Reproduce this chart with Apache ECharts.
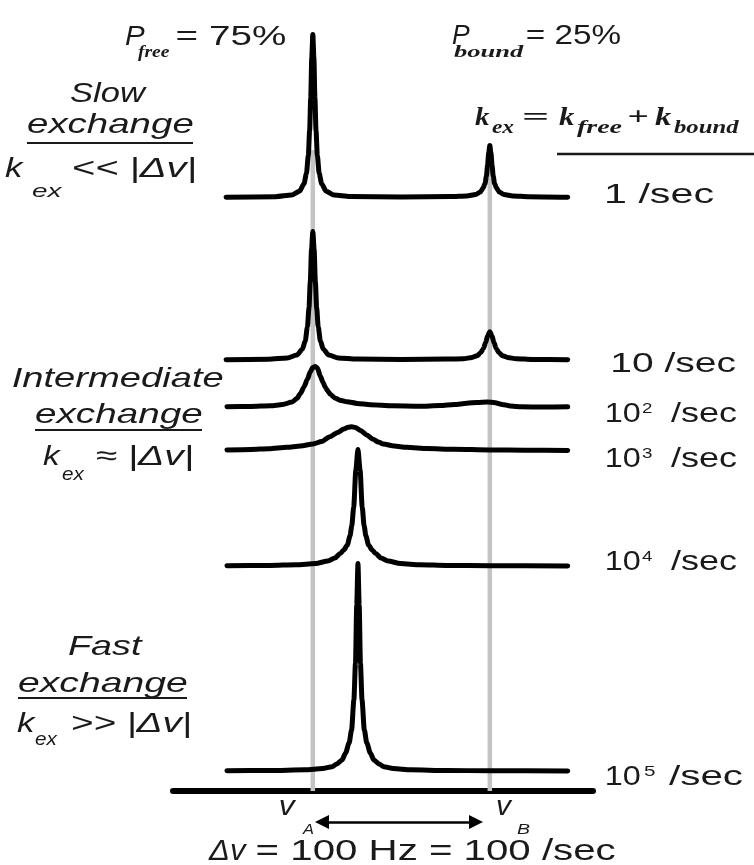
<!DOCTYPE html>
<html>
<head>
<meta charset="utf-8">
<script src="https://cdn.jsdelivr.net/npm/echarts@6/dist/echarts.min.js"></script>
<style>
  html, body { margin: 0; padding: 0; background: #fff; }
  #chart { width: 754px; height: 865px; }
</style>
</head>
<body>
<div id="chart"></div>
<script>
// Chemical shifts of the two sites, Hz (free = A, bound = B)
const shiftsHz = [0, 100];

// Exchange-rate labels, top to bottom: mantissa and power of ten
const rateMantissa = ['1', '10', '10', '10', '10', '10'];
const rateExponent = ['', '', '2', '3', '4', '5'];

// Line shapes: [frequency offset (Hz), intensity]
const spectrumK1 = [
  [-49, 0.2], [-21, 0.8], [-12, 2.5], [-7.5, 6.3], [-5, 13.7], [-3.6, 24], [-2.55, 42], [-1.8, 67],
  [-1.2, 99], [-0.6, 140], [0, 163], [0.6, 140], [1.2, 99], [1.8, 67], [2.55, 42], [3.6, 24],
  [5, 13.7], [7.5, 6.3], [12, 2.5], [21, 0.9], [50, 0.5], [78, 0.9], [87, 1.6], [92, 3],
  [94.7, 5.5], [96.2, 9.5], [97.3, 14], [98.1, 21.5], [98.7, 32], [99.4, 45], [100, 52],
  [100.6, 45], [101.3, 32], [101.9, 21.5], [102.7, 14], [103.8, 9.5], [105.3, 5.5], [108, 3],
  [113, 1.6], [122, 0.8], [144, 0.3]
];
const spectrumK10 = [
  [-49, 0.3], [-25, 0.8], [-14.4, 2], [-9, 4.9], [-5.9, 10.8], [-4.3, 19], [-3.05, 33], [-2.15, 52.7],
  [-1.45, 78], [-0.72, 111], [0, 128.5], [0.72, 111], [1.45, 78], [2.15, 52.7], [3.05, 33], [4.3, 19],
  [5.9, 10.8], [9, 4.9], [14.4, 2], [25, 0.9], [50, 0.6], [76, 0.9], [85, 1.3], [90, 2.5],
  [92.8, 4.3], [94.9, 7.3], [96.4, 11.6], [97.6, 17.2], [98.8, 24.3], [100, 28.2], [101.2, 24.3],
  [102.4, 17.2], [103.6, 11.6], [105.1, 7.3], [107.2, 4.3], [110, 2.5], [115, 1.3], [124, 0.5], [144, 0.2]
];
const spectrumK100 = [
  [-48.5, 0.3], [-35, 0.6], [-24, 1.2], [-17, 2.5], [-11.7, 5], [-9, 8.5], [-7, 13.5], [-5, 20],
  [-3, 28], [-1.5, 35], [0, 39.5], [1.2, 40.5], [2.6, 39], [4.2, 31], [5.8, 24.5], [7, 20],
  [8, 17], [10, 12.5], [12.7, 8.7], [16, 6.5], [19.3, 5.3], [25, 3.6], [32.5, 2.2], [45, 1.2],
  [60, 0.8], [72, 1.4], [80, 2.5], [87, 3.7], [93, 4.6], [98.4, 5], [103, 4.3], [107, 2.6],
  [111.6, 1], [118, 0.2], [130, 0], [144, 0.2]
];
const spectrumK1000 = [
  [-48.5, 0], [-35, 0.6], [-25, 1.3], [-14.7, 2.7], [-7, 4], [0.1, 6], [5, 8.6], [9.7, 13.3],
  [14, 17.6], [17.5, 21], [20, 22.8], [22, 23.3], [24, 22.6], [27, 19.5], [30.5, 15], [34, 10.8],
  [37, 8], [39.8, 6], [46, 4], [53, 2.7], [65, 1.5], [79.4, 0.7], [100, 0.1], [120, -0.3], [144, -0.5]
];
const spectrumK10000 = [
  [-48.5, 0.3], [-24.5, 0.6], [-9.5, 1.2], [1.5, 2.5], [8.5, 5], [12.5, 8], [15.5, 12.5], [17.5, 16],
  [19.5, 21], [21, 30], [22, 40], [23.1, 59], [24.3, 96], [25.5, 116.5], [26.7, 96], [27.9, 59],
  [29, 40], [30, 30], [31.5, 21], [33.5, 16], [35.5, 12.5], [38.5, 8], [42.5, 5], [49.5, 2.5],
  [60.5, 1.2], [75.5, 0.6], [100, 0.3], [144, 0.1]
];
const spectrumK100000 = [
  [-48.5, 0.2], [-24.5, 0.5], [-4.5, 1.2], [5.5, 2.5], [10.9, 4.3], [13.5, 7], [16.5, 11], [18.5, 18],
  [20.5, 28], [21.9, 41], [23.2, 71], [24.1, 108], [24.8, 166], [25.5, 207.5], [26.2, 166], [26.9, 108],
  [27.8, 71], [29.1, 41], [30.5, 28], [32.5, 18], [34.5, 11], [37.5, 7], [40.1, 4.3], [45.5, 2.5],
  [55.5, 1.2], [75.5, 0.5], [100, 0.25], [144, 0.1]
];

const spectra = [spectrumK1, spectrumK10, spectrumK100, spectrumK1000, spectrumK10000, spectrumK100000];

// Vertical stacking of the traces (value units = pixels above the frequency axis)
const baselineOffsets = [593.5, 431, 384, 341, 225, 20];
const guideTop = 641;

const TEXT = '#1a1a1a';
const SANS = '"Liberation Sans", Arial, sans-serif';
const SERIF = '"Liberation Serif", "Times New Roman", serif';

// Text measuring: fit each string's ink between two x positions on a given baseline
const mctx = document.createElement('canvas').getContext('2d');
function txt(str, inkL, inkR, baseline, font) {
  mctx.font = font;
  mctx.textBaseline = 'middle';
  const m = mctx.measureText(str);
  const midToBase = mctx.measureText('H').actualBoundingBoxDescent;
  const inkW = m.actualBoundingBoxLeft + m.actualBoundingBoxRight;
  const s = (inkR - inkL) / inkW;
  return {
    type: 'text', silent: true, z: 100,
    x: inkL + m.actualBoundingBoxLeft * s, y: baseline - midToBase, scaleX: s,
    style: { text: str, font: font, fill: TEXT, align: 'left', verticalAlign: 'middle' }
  };
}
function rule(x1, x2, y, w) {
  return { type: 'line', silent: true, z: 100, shape: { x1: x1, y1: y, x2: x2, y2: y },
    style: { stroke: TEXT, lineWidth: w } };
}

const it28 = `italic 28px ${SANS}`;
const it18 = `italic 18px ${SANS}`;
const reg28 = `28px ${SANS}`;
const subSerif = `italic bold 17px ${SERIF}`;
const kSerif = `italic bold 25px ${SERIF}`;
const opSerif = `bold 25px ${SERIF}`;

const graphics = [
  // populations
  txt('P', 125, 145, 45, it28), txt('free', 138, 170, 57, subSerif), txt('= 75%', 177, 285, 45, reg28),
  txt('P', 452, 470, 43.5, it28), txt('bound', 454, 524, 57, subSerif), txt('= 25%', 527, 620, 43.5, reg28),
  // rate definition
  txt('k', 475, 490, 125, kSerif), txt('ex', 492, 514, 133, `italic bold 18px ${SERIF}`),
  txt('=', 524, 547, 125, opSerif),
  txt('k', 559, 575, 125, kSerif), txt('free', 577, 622, 133, `italic bold 18px ${SERIF}`),
  txt('+', 629, 647, 125, opSerif),
  txt('k', 655, 672, 125, kSerif), txt('bound', 674, 740, 133, `italic bold 18px ${SERIF}`),
  rule(557, 754, 154, 2.5),
  // regime captions
  txt('Slow', 70, 147, 102, it28), txt('exchange', 27, 193, 133, it28), rule(27, 193, 143, 2),
  txt('k', 5, 25, 177, it28), txt('ex', 32, 63, 197, it18), txt('<< |Δv|', 73, 195, 177, it28),
  txt('Intermediate', 13, 223, 387, it28), txt('exchange', 35, 202, 423, it28), rule(35, 202, 430, 2),
  txt('k', 43, 62, 465, it28), txt('ex', 62, 85, 480, it18), txt('≈ |Δv|', 97, 192, 465, it28),
  txt('Fast', 68, 143, 655, it28), txt('exchange', 18, 187, 692, it28), rule(18, 187, 698, 2),
  txt('k', 17, 37, 732, it28), txt('ex', 35, 58, 745, it18), txt('>> |Δv|', 72, 190, 732, it28),
  // frequency axis annotation
  txt('v', 280, 297, 815, it28), txt('A', 302, 314, 834, `italic 15px ${SANS}`),
  txt('v', 497, 513, 815, it28), txt('B', 517, 530, 834, `italic 15px ${SANS}`),
  txt('Δv', 208, 247, 860, `italic 29px ${SANS}`),
  txt('= ' + shiftsHz[1] + ' Hz = ' + shiftsHz[1] + ' /sec', 257, 615, 860, `29px ${SANS}`)
];

// exchange-rate labels at the right of each trace
const rateBaselines = [203, 372, 422, 467, 570, 785];
rateMantissa.forEach((mant, i) => {
  const b = rateBaselines[i];
  if (!rateExponent[i]) {
    graphics.push(i === 0 ? txt(mant + ' /sec', 607, 714, b, reg28) : txt(mant + ' /sec', 613, 736, b, reg28));
  } else {
    const last = i === 5;
    graphics.push(txt(mant, 607, 640, b, reg28));
    graphics.push(txt(rateExponent[i], last ? 644 : 642, last ? 655 : 652, b - 9.5, `15px ${SANS}`));
    graphics.push(txt('/sec', last ? 669 : 671, last ? 743 : 737, b, reg28));
  }
});

const traceSeries = spectra.map((pts, i) => ({
  type: 'line',
  name: rateMantissa[i] + (rateExponent[i] ? '^' + rateExponent[i] : '') + ' /sec',
  data: pts.map(([f, v]) => [f, v + baselineOffsets[i]]),
  symbol: 'none', smooth: 0.25, smoothMonotone: 'x', silent: true, z: 3,
  lineStyle: { color: '#000', width: 5, cap: 'round', join: 'round' }
}));

const guideSeries = shiftsHz.map((hz, i) => ({
  type: 'line', silent: true, symbol: 'none', z: 1,
  data: [[hz, 0], [hz, guideTop]],
  lineStyle: { color: '#c4c4c4', width: 4.5 },
  markLine: i === 0 ? {
    silent: true, z: 4, animation: false,
    symbol: ['triangle', 'triangle'], symbolSize: 14,
    label: { show: false },
    lineStyle: { color: '#000', width: 2.5, type: 'solid' },
    data: [[{ coord: [5.2, -31] }, { coord: [92.2, -31] }]]
  } : undefined
}));

const chart = echarts.init(document.getElementById('chart'), null, { renderer: 'canvas' });
chart.setOption({
  animation: false,
  backgroundColor: '#fff',
  grid: { left: 173, right: 161, top: 20, bottom: 0 },
  xAxis: {
    type: 'value', min: -79, max: 158.3,
    axisLine: { show: true, onZero: true, lineStyle: { color: '#000', width: 6 } },
    axisTick: { show: false }, axisLabel: { show: false }, splitLine: { show: false }
  },
  yAxis: { type: 'value', min: -74, max: 771, show: false, splitLine: { show: false } },
  series: guideSeries.concat(traceSeries),
  graphic: { elements: graphics }
});
</script>
</body>
</html>
